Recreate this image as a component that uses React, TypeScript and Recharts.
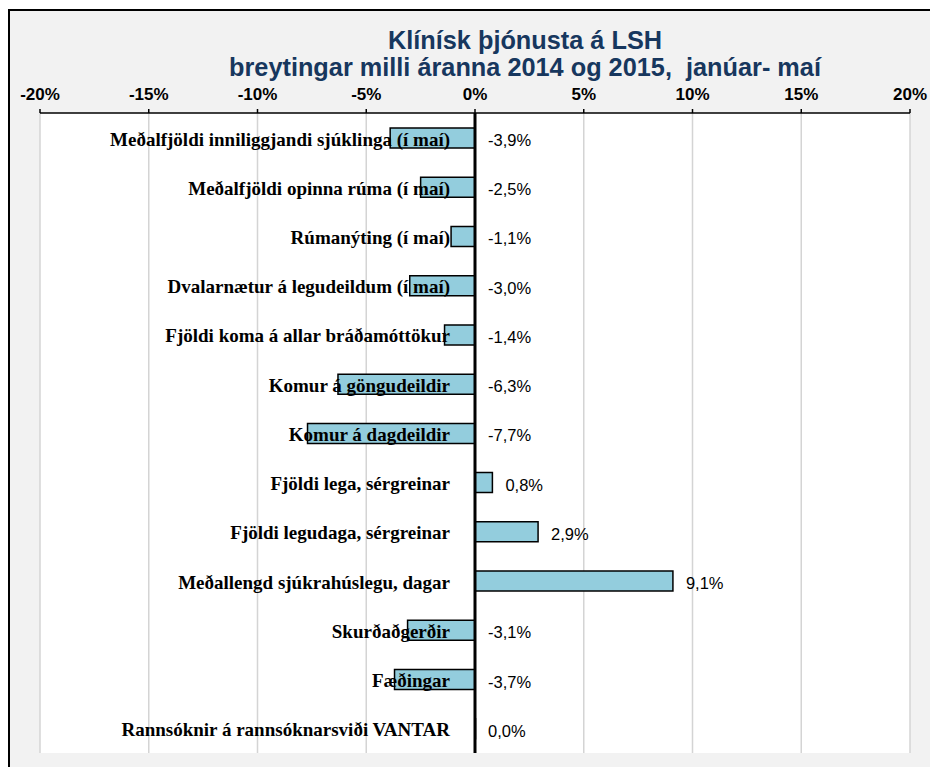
import React from "react";
import {
  BarChart,
  Bar,
  XAxis,
  YAxis,
  CartesianGrid,
  ReferenceLine,
  LabelList,
} from "recharts";

const CATEGORIES = [
  "Meðalfjöldi inniliggjandi sjúklinga (í maí)",
  "Meðalfjöldi opinna rúma (í maí)",
  "Rúmanýting (í maí)",
  "Dvalarnætur á legudeildum (í maí)",
  "Fjöldi koma á allar bráðamóttökur",
  "Komur á göngudeildir",
  "Komur á dagdeildir",
  "Fjöldi lega, sérgreinar",
  "Fjöldi legudaga, sérgreinar",
  "Meðallengd sjúkrahúslegu, dagar",
  "Skurðaðgerðir",
  "Fæðingar",
  "Rannsóknir á rannsóknarsviði VANTAR",
];

const CHANGES = [-3.9, -2.5, -1.1, -3.0, -1.4, -6.3, -7.7, 0.8, 2.9, 9.1, -3.1, -3.7, 0.0];

const X_TICKS = [-20, -15, -10, -5, 0, 5, 10, 15, 20];

const TITLE_LINES = [
  "Klínísk þjónusta á LSH",
  "breytingar milli áranna 2014 og 2015,  janúar- maí",
];

const data = CATEGORIES.map((name, i) => ({ name, value: CHANGES[i] }));
const valueByName: Record<string, number> = {};
data.forEach((d) => (valueByName[d.name] = d.value));

const fmt = (v: number) => v.toFixed(1).replace(".", ",") + "%";

// x of the zero line, whichever way recharts hands us the bar rect
const zeroOf = (x: number, width: number, v: number) =>
  v < 0 && width > 0 ? x + width : x;

const NameLabel = (props: any) => {
  const { x, y, width, height, value } = props;
  const v = valueByName[value] ?? 0;
  const zx = zeroOf(Number(x), Number(width), v);
  return (
    <text
      x={zx - 25}
      y={Number(y) + Number(height) / 2 + 1}
      textAnchor="end"
      dominantBaseline="central"
      fontFamily="'Liberation Serif', 'Times New Roman', serif"
      fontWeight="bold"
      fontSize={19}
      fill="#000"
    >
      {value}
    </text>
  );
};

const ValueLabel = (props: any) => {
  const { x, y, width, height, value } = props;
  const v = Number(value);
  const zx = zeroOf(Number(x), Number(width), v);
  const endX = v > 0 ? zx + Math.abs(Number(width)) : zx;
  return (
    <text
      x={endX + 13}
      y={Number(y) + Number(height) / 2 + 2}
      dominantBaseline="central"
      fontFamily="'Liberation Sans', Arial, sans-serif"
      fontSize={16.5}
      fill="#000"
    >
      {fmt(v)}
    </text>
  );
};

export default function App() {
  const axisTick = {
    fontFamily: "'Liberation Sans', Arial, sans-serif",
    fontWeight: "bold",
    fontSize: 17,
    fill: "#000",
  };

  return (
    <div
      style={{
        position: "fixed",
        left: 8,
        top: 9,
        width: 920,
        height: 756,
        borderTop: "2px solid #000",
        borderLeft: "2px solid #000",
        background: "#F2F2F2",
      }}
    >
      <svg
        width={920}
        height={80}
        style={{ position: "absolute", left: 0, top: 0 }}
      >
        {TITLE_LINES.map((line, i) => (
          <text
            key={i}
            x={515}
            y={38 + i * 27}
            textAnchor="middle"
            fontFamily="'Liberation Sans', Arial, sans-serif"
            fontWeight="bold"
            fontSize={25.3}
            fill="#17375E"
            style={{ whiteSpace: "pre" }}
          >
            {line}
          </text>
        ))}
      </svg>
      <div style={{ position: "absolute", left: 0, top: 0 }}>
        <BarChart
          width={920}
          height={756}
          data={data}
          layout="vertical"
          margin={{ top: 72, right: 20, left: 30, bottom: 14 }}
          barSize={20}
        >
          <CartesianGrid
            horizontal={false}
            stroke="#D4D4D4"
            strokeWidth={1.5}
            fill="#FFFFFF"
          />
          <XAxis
            type="number"
            orientation="top"
            domain={[-20, 20]}
            ticks={X_TICKS}
            tickFormatter={(v) => `${v}%`}
            tick={axisTick}
            axisLine={{ stroke: "#000", strokeWidth: 1.5 }}
            tickLine={{ stroke: "#000", strokeWidth: 1.5 }}
            tickSize={4}
            tickMargin={9}
            height={30}
            interval={0}
          />
          <XAxis
            xAxisId="bottom"
            type="number"
            orientation="bottom"
            domain={[-20, 20]}
            ticks={X_TICKS}
            tick={false}
            tickLine={false}
            axisLine={{ stroke: "#D4D4D4", strokeWidth: 1.5 }}
            height={0}
          />
          <YAxis type="category" dataKey="name" hide />
          <Bar
            dataKey="value"
            fill="#93CDDD"
            stroke="#000"
            strokeWidth={1.5}
            minPointSize={(v: number) => (v === 0 ? 0.5 : 0)}
            isAnimationActive={false}
          >
            <LabelList dataKey="name" content={NameLabel} />
            <LabelList dataKey="value" content={ValueLabel} />
          </Bar>
          <ReferenceLine x={0} stroke="#000" strokeWidth={3} />
        </BarChart>
      </div>
    </div>
  );
}
